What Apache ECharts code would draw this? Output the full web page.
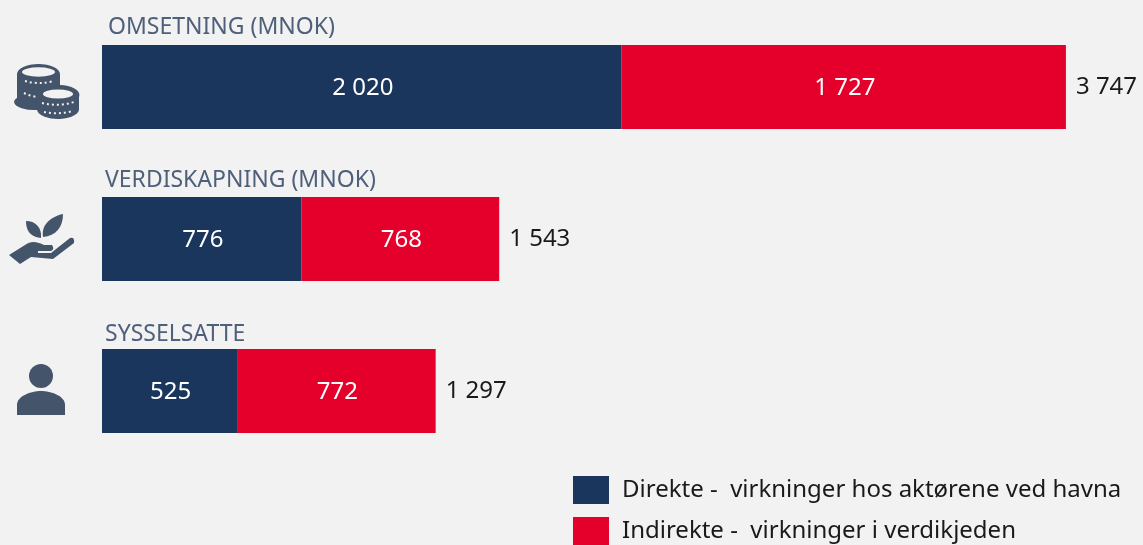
<!DOCTYPE html>
<html>
<head>
<meta charset="utf-8">
<style>
html, body { margin: 0; padding: 0; background: #f2f2f2; overflow: hidden; }
#chart { width: 1143px; height: 545px; }
</style>
<script src="https://cdn.jsdelivr.net/npm/echarts@6/dist/echarts.min.js"></script>
</head>
<body>
<div id="chart"></div>
<script>
var categories = ['OMSETNING (MNOK)', 'VERDISKAPNING (MNOK)', 'SYSSELSATTE'];
var direkte = [2020, 776, 525];
var indirekte = [1727, 768, 772];
var totals = [3747, 1543, 1297];
var direkteName = 'Direkte -  virkninger hos aktørene ved havna';
var indirekteName = 'Indirekte -  virkninger i verdikjeden';

var font = 'Noto Sans';
var navy = '#1a365d';
var red = '#e4002b';
var iconColor = '#44546a';
var bg = '#f2f2f2';

// 2 020 style
function fmt(v) {
    return String(v).replace(/\B(?=(\d{3})+$)/g, ' ');
}

function title(text, x, y) {
    return {
        type: 'text',
        x: x,
        y: y,
        style: { text: text, fill: '#4f607b', font: '23px "' + font + '"' }
    };
}

var chart = echarts.init(document.getElementById('chart'));

var option = {
    backgroundColor: bg,
    animation: false,
    grid: { left: 102, top: 11, width: 1029, height: 456 },
    xAxis: { type: 'value', min: 0, max: 4000, show: false },
    yAxis: { type: 'category', data: categories, inverse: true, show: false },
    legend: {
        data: [
            { name: direkteName, icon: 'rect' },
            { name: indirekteName, icon: 'rect' }
        ],
        orient: 'vertical',
        left: 573,
        top: 476,
        padding: 0,
        itemWidth: 36,
        itemHeight: 28,
        itemGap: 13,
        selectedMode: false,
        textStyle: { color: '#1a1a1a', fontFamily: font, fontSize: 24, padding: [2, 0, 0, 8] }
    },
    graphic: [
        title(categories[0], 108, 16),
        title(categories[1], 105, 169),
        title(categories[2], 105, 323)
    ],
    series: [
        {
            name: direkteName,
            type: 'bar',
            stack: 'a',
            barWidth: 84,
            itemStyle: { color: navy },
            label: {
                show: true,
                position: 'inside',
                offset: [1, 1],
                color: '#fff',
                fontFamily: font,
                fontSize: 24,
                formatter: function (p) { return fmt(p.value); }
            },
            data: direkte
        },
        {
            name: indirekteName,
            type: 'bar',
            stack: 'a',
            barWidth: 84,
            itemStyle: { color: red },
            label: {
                show: true,
                position: 'inside',
                offset: [1, 1],
                color: '#fff',
                fontFamily: font,
                fontSize: 24,
                formatter: function (p) { return fmt(p.value); }
            },
            data: indirekte
        },
        {
            // empty bar, only carries the total label
            name: 'Sum',
            type: 'bar',
            stack: 'a',
            barWidth: 84,
            itemStyle: { color: 'transparent' },
            label: {
                show: true,
                position: 'right',
                distance: 10,
                color: '#1a1a1a',
                fontFamily: font,
                fontSize: 24,
                formatter: function (p) { return fmt(totals[p.dataIndex]); }
            },
            data: [0, 0, 0]
        }
    ]
};

chart.setOption(option);

// icons left of the bars, graphic option has no svg path type
var zr = chart.getZr();
function icon(d, color) {
    zr.add(echarts.graphic.makePath(d, { style: { fill: color || iconColor }, z: 10 }));
}
function coinDots(d) {
    zr.add(echarts.graphic.makePath(d, { style: { fill: null, stroke: bg, lineWidth: 2, lineDash: [2, 3] }, z: 10 }));
}

// coins
icon('M17 74 A21.5 10 0 0 1 60 74 L60 85 A21 10 0 0 1 79 97 L79 108 A21 10 0 0 1 37 110 A21 8 0 0 1 17 98 Z');
icon('M22 72 A16 4.5 0 0 1 55 72 A16 4.5 0 0 1 22 72 Z', bg);
icon('M43 94 A15 4.5 0 0 1 73 94 A15 4.5 0 0 1 43 94 Z', bg);
coinDots('M25 81 Q38 85 54 81');
coinDots('M24 93 Q30 96 37 97');
coinDots('M42 103 Q58 107 74 102');
coinDots('M44 112 Q58 115 73 111');
// plant on hand
icon('M41 238 C29 237 26 229 26 221 C35 221 42 227 41 238 Z');
icon('M43 237 C41 225 50 217 63 214 C63 227 56 236 43 237 Z');
icon('M9 255 L25 245 C31 240 38 242 44 245 L52 245 Q55 249 51 251 L38 251 L38 253 L51 253 L70 238 Q75 237 74 243 L53 259 L31 257 L20 264 Z');
// person
icon('M29 376 A12 12 0 1 1 53 376 A12 12 0 1 1 29 376 Z');
icon('M17 415 L17 405 C17 396 31 391 41 391 C51 391 65 396 65 405 L65 415 Z');
</script>
</body>
</html>
